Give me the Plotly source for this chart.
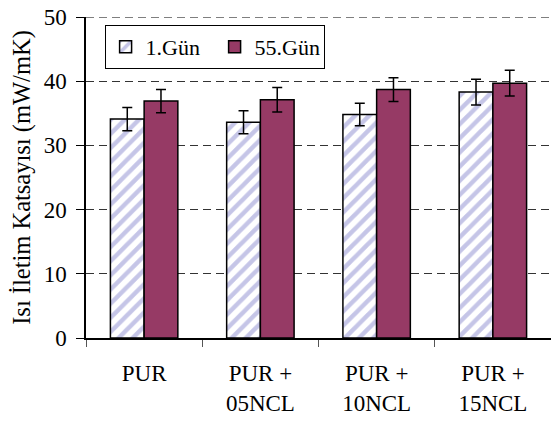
import plotly.graph_objects as go

categories = ["PUR", "PUR +<br>05NCL", "PUR +<br>10NCL", "PUR +<br>15NCL"]
series_names = ["1.Gün", "55.Gün"]
day1_values = [34.1, 33.6, 34.8, 38.3]
day1_errors = [1.8, 1.8, 1.75, 2.0]
day55_values = [36.9, 37.1, 38.7, 39.7]
day55_errors = [1.8, 1.9, 1.85, 2.0]
y_ticks = [0, 10, 20, 30, 40, 50]

FONT = "Liberation Serif"

fig = go.Figure()
fig.add_trace(go.Bar(
    name=series_names[0], x=categories, y=day1_values,
    marker=dict(color="white",
                line=dict(color="black", width=1.5),
                pattern=dict(shape="/", fgcolor="#8c8cd0", bgcolor="white",
                             size=10, solidity=0.45)),
    error_y=dict(type="data", array=day1_errors, color="black",
                 thickness=1.5, width=5),
))
fig.add_trace(go.Bar(
    name=series_names[1], x=categories, y=day55_values,
    marker=dict(color="#963a65", line=dict(color="black", width=1.5)),
    error_y=dict(type="data", array=day55_errors, color="black",
                 thickness=1.5, width=5),
))

fig.add_shape(type="line", xref="paper", yref="y", x0=0, x1=1, y0=50, y1=50,
              line=dict(color="#555555", width=1.5, dash="8px,5px"), layer="below")

fig.update_layout(
    width=551, height=421,
    margin=dict(l=86, r=0, t=17, b=83),
    paper_bgcolor="white", plot_bgcolor="white",
    font=dict(family=FONT, size=23, color="black"),
    barmode="group", bargap=0.42, bargroupgap=0,
    showlegend=True,
    legend=dict(orientation="h", x=0.04, y=0.975, xanchor="left", yanchor="top",
                bordercolor="black", borderwidth=1, bgcolor="white",
                font=dict(family=FONT, size=22), itemwidth=30,
                entrywidth=64, traceorder="normal"),
)
fig.update_xaxes(
    type="category", tickson="boundaries", ticks="outside", ticklen=7,
    tickcolor="#555555", showline=True, linecolor="black", linewidth=1.5,
    showgrid=False, ticklabelstandoff=14, range=[-0.5, 3.5], automargin=False,
    tickfont=dict(family=FONT, size=23),
)
fig.update_yaxes(
    range=[0, 50], tickvals=y_ticks, ticks="outside", ticklen=8,
    tickcolor="black", showline=True, linecolor="black", linewidth=1.5,
    showgrid=True, gridcolor="#333333", gridwidth=1, griddash="8px,5px",
    zeroline=False, ticklabelstandoff=5, automargin=False,
    ticklabeloverflow="allow",
    tickfont=dict(family=FONT, size=23),
    title=dict(text="Isı İletim Katsayısı (mW/mK)", standoff=6,
               font=dict(family=FONT, size=24.5)),
)

fig.write_html("out.html", config={"displayModeBar": False},
               post_script="document.body.style.margin='0px';")
